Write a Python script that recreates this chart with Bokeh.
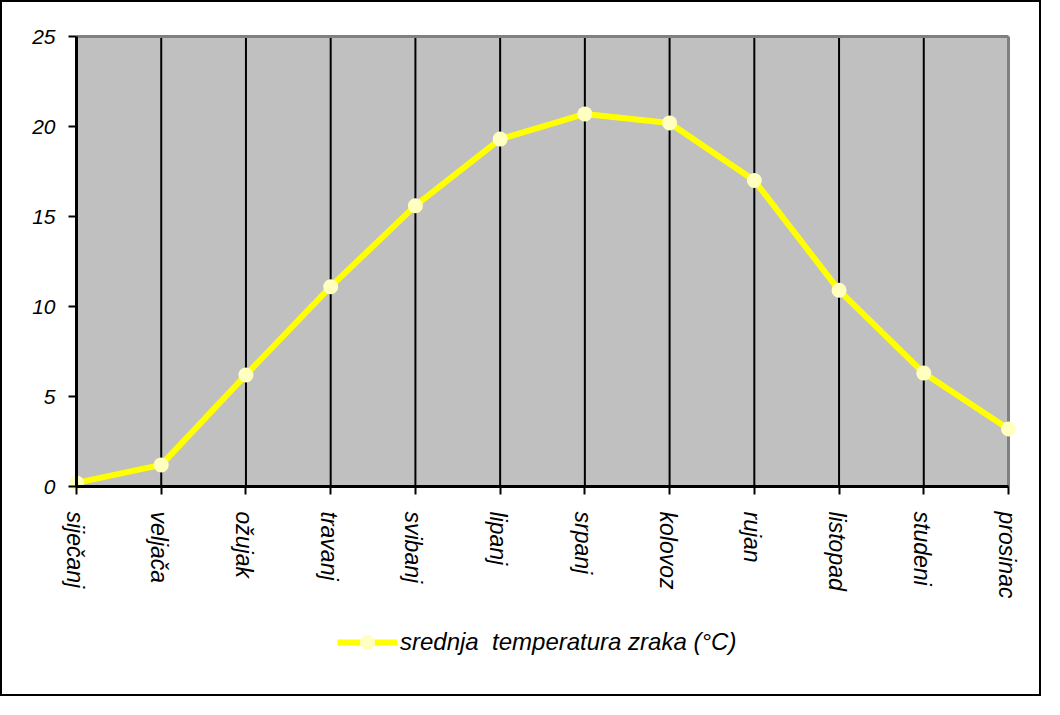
import math
from bokeh.plotting import figure
from bokeh.models import FixedTicker, Legend, LegendItem
from bokeh.core.properties import value
from bokeh.embed import file_html
from bokeh.resources import INLINE

months = ["siječanj", "veljača", "ožujak", "travanj", "svibanj", "lipanj",
          "srpanj", "kolovoz", "rujan", "listopad", "studeni", "prosinac"]
temps = [0.2, 1.2, 6.2, 11.1, 15.6, 19.3, 20.7, 20.2, 17.0, 10.9, 6.3, 3.2]
y_ticks = [0, 5, 10, 15, 20, 25]
series_name = "srednja  temperatura zraka (°C)"

xs = list(range(len(months)))
n = len(months) - 1
ymax = y_ticks[-1]

# canvas geometry (pixels inside the figure canvas)
W, H = 1041, 696
left_px, right_px = 74.0, 1006.0     # first / last category
top_px, bottom_px = 34.0, 484.0      # 25 / 0
xpx = (right_px - left_px) / n
ypx = (bottom_px - top_px) / ymax
xr = (-left_px / xpx, n + (W - right_px) / xpx)
yr = (-(H - bottom_px) / ypx, ymax + top_px / ypx)

p = figure(width=W, height=H, output_backend="svg", toolbar_location=None,
           x_range=xr, y_range=yr,
           min_border_left=0, min_border_right=0, min_border_top=0, min_border_bottom=0,
           background_fill_color="white", border_fill_color="white")
p.styles = {"border": "2px solid black"}
p.outline_line_color = None
p.xgrid.visible = False
p.ygrid.visible = False

# gray plot area
p.quad(left=[xs[0]], right=[xs[-1]], bottom=[y_ticks[0]], top=[ymax],
       fill_color="#C0C0C0", line_color=None)
# vertical grid lines
p.segment(x0=xs[1:-1], y0=[y_ticks[0]] * (n - 1), x1=xs[1:-1], y1=[ymax] * (n - 1),
          line_color="black", line_width=2)
# gray top and right border
p.segment(x0=[xs[0], xs[-1]], y0=[ymax, y_ticks[0]], x1=[xs[-1], xs[-1]], y1=[ymax, ymax],
          line_color="#808080", line_width=3)

line = p.line(xs, temps, line_color="#FFFF00", line_width=6)
pts = p.scatter(xs, temps, size=15, fill_color="#FFFFC0", line_color=None)


def line_only(ax, ticks, loc, bounds):
    ax.fixed_location = loc
    ax.bounds = bounds
    ax.ticker = FixedTicker(ticks=ticks)
    ax.major_label_overrides = {t: "" for t in ticks}
    ax.major_label_standoff = 0
    ax.major_tick_out = 8
    ax.major_tick_in = 0
    ax.minor_tick_out = 0
    ax.minor_tick_in = 0
    ax.axis_line_color = "black"
    ax.axis_line_width = 3
    ax.major_tick_line_width = 2


line_only(p.xaxis[0], xs, y_ticks[0], (xs[0], xs[-1]))
line_only(p.yaxis[0], y_ticks, xs[0], (y_ticks[0], ymax))

# tick labels
p.text(x=[xs[0]] * len(y_ticks), y=y_ticks, text=[str(t) for t in y_ticks],
       x_offset=-21, text_align="right", text_baseline="middle",
       text_font=value("Liberation Sans"), text_font_style="italic",
       text_font_size="21px", text_color="black")
p.text(x=xs, y=[y_ticks[0]] * len(xs), text=months, angle=-math.pi / 2,
       x_offset=-2, y_offset=25, text_align="left", text_baseline="middle",
       text_font=value("Liberation Sans"), text_font_style="italic",
       text_font_size="23px", text_color="black")

legend = Legend(items=[LegendItem(label=series_name, renderers=[line, pts])],
                location=(335, 37), orientation="horizontal",
                glyph_width=60, glyph_height=38, label_standoff=3,
                padding=0, margin=0, border_line_color=None,
                background_fill_alpha=0,
                label_text_font="Liberation Sans", label_text_font_style="italic",
                label_text_font_size="24px", label_text_color="black")
p.add_layout(legend, "center")

open("out.html", "w").write(file_html(p, INLINE))
